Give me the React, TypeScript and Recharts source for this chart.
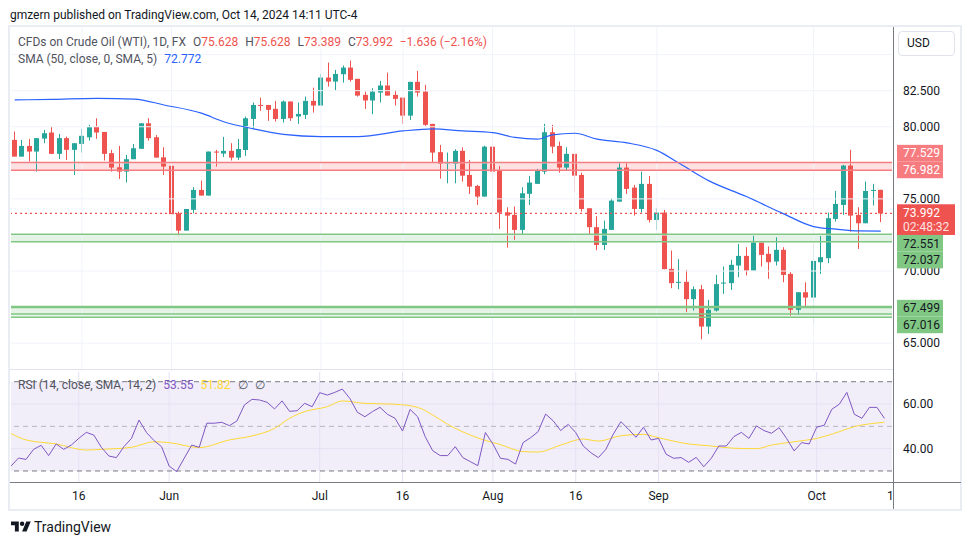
import React from "react";
import {
  ComposedChart,
  Bar,
  Line,
  XAxis,
  YAxis,
  ReferenceLine,
  ReferenceArea,
} from "recharts";

// trading sessions shown on the chart (CFD trades every weekday)
const sessions: [string, number[]][] = [
  ["05", [3, 6, 7, 8, 9, 10, 13, 14, 15, 16, 17, 20, 21, 22, 23, 24, 27, 28, 29, 30, 31]],
  ["06", [3, 4, 5, 6, 7, 10, 11, 12, 13, 14, 17, 18, 19, 20, 21, 24, 25, 26, 27, 28]],
  ["07", [1, 2, 3, 4, 5, 8, 9, 10, 11, 12, 15, 16, 17, 18, 19, 22, 23, 24, 25, 26, 29, 30, 31]],
  ["08", [1, 2, 5, 6, 7, 8, 9, 12, 13, 14, 15, 16, 19, 20, 21, 22, 23, 26, 27, 28, 29, 30]],
  ["09", [2, 3, 4, 5, 6, 9, 10, 11, 12, 13, 16, 17, 18, 19, 20, 23, 24, 25, 26, 27, 30]],
  ["10", [1, 2, 3, 4, 7, 8, 9, 10, 11, 14]],
];
const futureSlot = "2024-10-15";

const opens = [
  79.09, 77.93, 78.67, 78.28, 79.18, 79.6, 78.12, 79.21, 78.4, 78.81, 79.27, 80.01, 79.64, 78.17, 77.19, 76.89,
  77.75, 78.47, 80.24, 79.27, 77.88, 77.29, 74.0, 72.8, 74.24, 75.62, 75.23, 78.28, 78.14, 78.33, 77.86, 78.39,
  80.54, 81.51, 81.51, 81.24, 80.54, 81.75, 80.71, 80.82, 81.79, 81.47, 83.41, 83.13, 83.64, 84.1, 83.32, 82.21,
  81.82, 82.37, 82.86, 82.21, 82.02, 80.77, 83.11, 82.44, 80.2, 78.24, 77.45, 77.43, 78.33, 76.66, 75.9, 75.16,
  78.62, 76.96, 74.07, 73.89, 72.85, 75.35, 76.04, 76.89, 79.62, 78.67, 77.17, 78.12, 76.66, 74.35, 73.04, 71.81,
  72.85, 74.81, 77.17, 75.78, 74.3, 76.04, 73.54, 74.05, 70.15, 69.2, 69.25, 68.05, 68.74, 66.15, 67.26, 69.16,
  69.16, 70.38, 71.05, 70.03, 71.97, 71.19, 70.66, 71.47, 69.8, 67.31, 68.53, 68.16, 70.61, 70.89, 73.61, 74.58,
  77.31, 73.89, 73.31, 75.58, 75.628,
];
const highs = [
  79.67, 79.09, 79.16, 79.21, 79.78, 80.01, 79.5, 79.32, 78.86, 79.85, 80.13, 80.59, 79.64, 78.4, 78.67, 78.05,
  78.81, 80.24, 80.59, 79.43, 78.58, 77.52, 74.12, 74.3, 75.81, 76.27, 78.28, 78.4, 79.3, 78.86, 79.15, 80.71,
  81.68, 82.02, 81.51, 81.79, 81.82, 81.75, 81.68, 82.09, 82.71, 83.66, 84.45, 83.94, 84.24, 84.59, 83.32, 82.44,
  82.67, 83.18, 83.75, 82.55, 82.02, 83.11, 83.87, 82.9, 80.2, 78.74, 78.21, 78.44, 78.58, 77.7, 75.97, 78.69,
  78.86, 77.28, 74.42, 74.47, 75.81, 76.59, 77.08, 80.2, 80.13, 78.97, 78.58, 78.12, 76.82, 74.35, 73.8, 73.5,
  75.04, 77.54, 77.54, 75.97, 76.89, 76.59, 74.35, 74.24, 71.42, 70.82, 70.08, 68.93, 69.04, 68.0, 69.73, 70.31,
  70.78, 71.88, 71.65, 72.46, 71.97, 71.7, 72.34, 71.65, 69.92, 68.53, 69.22, 71.88, 72.43, 74.05, 75.55, 77.35,
  78.4, 74.42, 76.2, 76.04, 75.628,
];
const lows = [
  77.93, 77.93, 77.59, 76.89, 78.86, 78.12, 77.77, 77.7, 76.66, 78.21, 79.04, 79.16, 77.66, 76.89, 76.38, 76.13,
  77.75, 78.47, 79.04, 77.86, 76.66, 73.94, 72.46, 72.8, 74.0, 75.23, 75.23, 77.24, 77.9, 77.66, 77.7, 77.98,
  79.83, 81.1, 80.41, 80.36, 80.29, 80.41, 80.2, 80.54, 80.98, 81.47, 82.78, 82.51, 83.06, 83.13, 82.09, 81.24,
  80.87, 81.68, 82.16, 81.47, 80.2, 80.47, 82.09, 80.06, 77.52, 76.4, 76.08, 76.08, 76.19, 75.34, 74.58, 75.16,
  76.24, 72.92, 71.62, 72.16, 72.57, 74.58, 76.04, 76.71, 78.16, 76.82, 76.94, 75.5, 74.12, 72.5, 71.44, 71.46,
  72.85, 74.81, 75.34, 73.84, 74.05, 73.36, 72.85, 70.13, 68.81, 68.74, 67.15, 67.26, 65.27, 65.64, 67.19, 68.42,
  68.69, 69.57, 69.69, 70.03, 70.31, 69.46, 70.38, 69.22, 66.91, 66.96, 67.49, 66.27, 69.8, 70.54, 73.43, 73.89,
  72.73, 71.53, 73.31, 74.54, 73.389,
];
const closes = [
  77.93, 78.67, 78.28, 79.21, 79.55, 78.12, 79.21, 78.4, 78.86, 79.37, 79.97, 79.6, 78.12, 77.17, 76.89, 77.75,
  78.51, 80.24, 79.21, 77.86, 77.24, 73.94, 72.8, 74.3, 75.62, 75.23, 78.28, 78.21, 78.33, 77.86, 78.46, 80.59,
  81.51, 81.47, 81.17, 80.54, 81.75, 80.59, 80.89, 81.79, 81.47, 83.41, 83.13, 83.66, 84.1, 83.25, 82.16, 81.82,
  82.44, 82.86, 82.16, 81.93, 80.77, 83.11, 82.37, 80.13, 78.21, 77.43, 77.52, 78.33, 76.61, 75.85, 75.16, 78.62,
  76.89, 74.05, 73.84, 72.85, 75.39, 76.13, 76.94, 79.62, 78.62, 77.17, 78.12, 76.61, 74.3, 73.04, 71.81, 72.92,
  74.88, 77.17, 75.69, 74.3, 76.04, 73.54, 74.05, 70.13, 69.16, 69.25, 68.05, 68.74, 66.15, 67.31, 69.09, 69.2,
  70.43, 71.05, 70.03, 71.97, 71.12, 70.61, 71.47, 69.73, 67.31, 68.53, 68.16, 70.7, 70.96, 73.66, 74.65, 77.31,
  73.84, 73.31, 75.55, 75.62, 73.992,
];

// SMA(50) read at selected sessions: [session index, value]
const smaPoints: [number, number][] = [
  [0, 81.86], [5, 81.9], [11, 81.97], [16, 81.92], [20, 81.51], [25, 80.94], [28, 80.35], [32, 79.85],
  [36, 79.47], [41, 79.32], [46, 79.32], [52, 79.71], [56, 79.85], [60, 79.71], [64, 79.59], [67, 79.26],
  [70, 79.14], [72, 79.44], [75, 79.55], [78, 79.14], [82, 78.88], [86, 78.36], [89, 77.47], [93, 76.25],
  [98, 75.16], [103, 73.96], [107, 73.08], [110, 72.9], [113, 72.78], [116, 72.772],
];

const rsi = [
  32.2, 35.8, 35.2, 39.7, 41.5, 36.9, 42.1, 39.7, 41.6, 44.6, 47.3, 46.1, 40.6, 36.7, 36.0, 40.9, 44.6, 52.8,
  47.2, 43.6, 40.9, 32.2, 29.7, 35.7, 41.6, 40.6, 51.4, 51.4, 51.8, 50.3, 52.4, 59.6, 62.1, 61.8, 60.8, 57.8,
  61.4, 56.7, 57.0, 60.3, 58.8, 65.1, 64.0, 65.2, 66.7, 62.5, 56.3, 54.3, 56.6, 58.5, 55.4, 53.6, 47.9, 57.6,
  54.3, 45.4, 39.1, 36.9, 36.9, 40.9, 36.0, 34.2, 32.4, 47.2, 42.1, 35.7, 35.2, 33.1, 42.7, 44.9, 47.6, 55.5,
  52.5, 48.1, 50.9, 47.2, 41.2, 38.2, 36.0, 39.7, 46.6, 52.1, 48.7, 45.1, 49.6, 43.9, 44.6, 37.5, 35.7, 36.0,
  33.9, 36.1, 31.9, 35.7, 41.2, 41.2, 45.4, 47.3, 44.6, 50.2, 48.1, 46.9, 49.4, 44.6, 39.0, 42.7, 42.1, 49.6,
  50.5, 57.6, 59.9, 65.2, 55.4, 53.6, 58.5, 58.5, 53.55,
];
// RSI smoothing line read at selected sessions
const rsiMaPoints: [number, number][] = [
  [0, 46.8], [2, 43.9], [6, 42.1], [10, 39.4], [12, 39.7], [16, 40.6], [19, 43.1], [21, 42.7], [25, 40.5],
  [29, 43.9], [32, 45.7], [35, 49.1], [37, 53.6], [39, 56.6], [42, 58.8], [44, 61.4], [47, 60.3], [51, 59.9],
  [54, 58.5], [56, 55.1], [58, 50.9], [62, 44.8], [65, 41.8], [68, 38.7], [70, 38.5], [73, 41.6], [76, 44.3],
  [78, 43.4], [81, 45.8], [84, 46.4], [86, 44.9], [90, 42.1], [93, 41.2], [96, 40.2], [99, 40.0], [101, 41.6],
  [104, 43.1], [107, 44.6], [110, 47.6], [112, 49.9], [114, 51.1], [116, 51.82],
];

const redZone = [76.982, 77.529];
const greenZone = [72.037, 72.551];
const lowZone = [67.016, 67.499];
const lowZoneFloor = 66.8;
const lastPrice = 73.992;
const lastSma = 72.772;
const countdown = "02:48:32";

const priceGrid = [65, 67.5, 70, 72.5, 75, 77.5, 80, 82.5, 85];
const priceLabels = [65, 70, 75, 80, 82.5];
const rsiLabels = [40, 60];

const timeDates = ["2024-05-16", "2024-06-03", "2024-07-01", "2024-07-16", "2024-08-01", "2024-08-16", "2024-09-02", "2024-10-01"];
const timeLabels = ["16", "Jun", "Jul", "16", "Aug", "16", "Sep", "Oct"];

// ---------------------------------------------------------------------------

const FONT = "Roboto, 'Liberation Sans', sans-serif";
const GREEN = "#26a69a";
const RED = "#ef5350";
const GRID = "#f0f3fa";
const TEXT = "#131722";
const MUTED = "#50535e";
const AXIS = "#787b86";
const FS = 12;

const dates = sessions.flatMap(([m, days]) =>
  days.map((d) => `2024-${m}-${String(d).padStart(2, "0")}`)
);

const smaMap = new Map(smaPoints);
const rsiMaMap = new Map(rsiMaPoints);

const data = [
  ...dates.map((date, i) => ({
    date,
    open: opens[i],
    high: highs[i],
    low: lows[i],
    close: closes[i],
    range: [lows[i], highs[i]],
    sma: smaMap.has(i) ? smaMap.get(i) : null,
    rsi: rsi[i],
    rsiMa: rsiMaMap.has(i) ? rsiMaMap.get(i) : null,
  })),
  { date: futureSlot, range: null, sma: null, rsi: null, rsiMa: null },
];

// price tags on the right scale (TradingView pushes them apart so they don't overlap)
const tagLayout = new Map<number, { bg: string; fg: string; shift: number; w: number; h: number; sub?: string }>([
  [redZone[1], { bg: "#f77c80", fg: "#ffffff", shift: -9.2, w: 46, h: 16.7 }],
  [redZone[0], { bg: "#f77c80", fg: "#ffffff", shift: -0.4, w: 46, h: 16.7 }],
  [lastPrice, { bg: RED, fg: "#ffffff", shift: -0.8, w: 58, h: 30.7, sub: countdown }],
  [greenZone[1], { bg: "#81c784", fg: TEXT, shift: 9.1, w: 46, h: 16.7 }],
  [greenZone[0], { bg: "#81c784", fg: TEXT, shift: 18.4, w: 46, h: 16.7 }],
  [lowZone[1], { bg: "#81c784", fg: TEXT, shift: 1.1, w: 46, h: 16.7 }],
  [lowZone[0], { bg: "#81c784", fg: TEXT, shift: 10.8, w: 46, h: 16.7 }],
]);

const Candle = (props: any) => {
  const { x, y, width, height, payload } = props;
  if (!payload || payload.open == null) return null;
  const { open, close, high, low } = payload;
  const top = Math.min(y, y + height);
  const h = Math.abs(height);
  const ppu = h / (high - low || 1);
  const yOf = (v: number) => top + (high - v) * ppu;
  const color = close >= open ? GREEN : RED;
  const cx = Math.floor(x + width / 2) + 0.5;
  const bTop = yOf(Math.max(open, close));
  const bBot = yOf(Math.min(open, close));
  return (
    <g>
      <line x1={cx} x2={cx} y1={top} y2={top + h} stroke={color} strokeWidth={1} />
      <rect x={cx - 2.5} y={bTop} width={5} height={Math.max(1, bBot - bTop)} fill={color} />
    </g>
  );
};

const PriceTick = (props: any) => {
  const { x, y, payload } = props;
  const v: number = payload.value;
  const tag = tagLayout.get(v);
  if (tag) {
    const cy = y + tag.shift;
    return (
      <g>
        <rect x={x + 5} y={cy - 8.35} width={tag.w} height={tag.h} fill={tag.bg} />
        <text x={x + 11} y={cy + 4.2} fill={tag.fg} fontSize={FS} fontFamily={FONT}>
          {v.toFixed(3)}
        </text>
        {tag.sub && (
          <text x={x + 11} y={cy + 18.5} fill="#ffffff" fillOpacity={0.85} fontSize={FS} fontFamily={FONT}>
            {tag.sub}
          </text>
        )}
      </g>
    );
  }
  if (!priceLabels.includes(v)) return null;
  return (
    <text x={x + 11} y={y + 4.2} fill={TEXT} fontSize={FS} fontFamily={FONT}>
      {v.toFixed(3)}
    </text>
  );
};

const RsiTick = (props: any) => {
  const { x, y, payload } = props;
  if (!rsiLabels.includes(payload.value)) return null;
  return (
    <text x={x + 11} y={y + 4.2} fill={TEXT} fontSize={FS} fontFamily={FONT}>
      {payload.value.toFixed(2)}
    </text>
  );
};

const TimeTick = (props: any) => {
  const { x, y, payload } = props;
  const label = timeLabels[timeDates.indexOf(payload.value)];
  return (
    <text x={x} y={y + 17.5} textAnchor="middle" fill={TEXT} fontSize={FS} fontFamily={FONT}>
      {label}
    </text>
  );
};

const zoneLines = (zone: number[], color: string, width = 1.5) =>
  zone.map((v) => <ReferenceLine key={`z${v}`} y={v} stroke={color} strokeWidth={width} />);

const abs = (left: number, top: number, extra: React.CSSProperties = {}): React.CSSProperties => ({
  position: "absolute",
  left,
  top,
  ...extra,
});

export default function App() {
  const legend: React.CSSProperties = { fontFamily: FONT, fontSize: FS, color: MUTED, whiteSpace: "nowrap", lineHeight: "16px" };
  const red = { color: RED };
  const gap = { marginLeft: 7 };

  return (
    <div style={abs(0, 0, { width: 970, height: 545, background: "#fff", fontFamily: FONT })}>
      <div style={abs(10, 7, { fontSize: 12, color: TEXT, whiteSpace: "nowrap", lineHeight: "16px" })}>
        gmzern published on TradingView.com, Oct 14, 2024 14:11 UTC-4
      </div>

      <div style={abs(8, 25, { width: 954, height: 486, border: "2px solid #e9ecf2", boxSizing: "border-box" })} />

      <div style={abs(10, 27)}>
        <ComposedChart width={951} height={344} data={data} margin={{ top: 0, right: 0, bottom: 0, left: 1 }}>
          <XAxis dataKey="date" hide />
          <YAxis
            orientation="right"
            width={69}
            domain={[63.07, 86.914]}
            allowDataOverflow
            ticks={[...priceGrid, ...Array.from(tagLayout.keys())]}
            interval={0}
            tickSize={0}
            tickMargin={0}
            axisLine={false}
            tickLine={false}
            tick={<PriceTick />}
          />
          {timeDates.map((d) => (
            <ReferenceLine key={d} x={d} stroke={GRID} />
          ))}
          {priceGrid.map((v) => (
            <ReferenceLine key={`g${v}`} y={v} stroke={GRID} />
          ))}
          <ReferenceLine y={lastPrice} stroke={RED} strokeWidth={1.2} strokeDasharray="2 3" />
          <Line
            dataKey="sma"
            type="monotone"
            stroke="#2962ff"
            strokeWidth={1.2}
            dot={false}
            activeDot={false}
            connectNulls
            isAnimationActive={false}
          />
          <Bar dataKey="range" barSize={5} shape={<Candle />} isAnimationActive={false} />
          <ReferenceArea y1={redZone[0]} y2={redZone[1]} fill="#f23645" fillOpacity={0.15} stroke="none" />
          <ReferenceArea y1={greenZone[0]} y2={greenZone[1]} fill="#4caf50" fillOpacity={0.15} stroke="none" />
          <ReferenceArea y1={lowZone[0]} y2={lowZone[1]} fill="#4caf50" fillOpacity={0.15} stroke="none" />
          <ReferenceArea y1={lowZoneFloor} y2={lowZone[0]} fill="#4caf50" fillOpacity={0.12} stroke="none" />
          {zoneLines(redZone, "#f77c80")}
          {zoneLines(greenZone, "#81c784")}
          {zoneLines([lowZone[1]], "#81c784", 2.5)}
          {zoneLines([lowZone[0], lowZoneFloor], "#81c784")}
        </ComposedChart>
      </div>

      <div style={abs(10, 372)}>
        <ComposedChart width={951} height={137} data={data} margin={{ top: 0, right: 0, bottom: 0, left: 1 }}>
          <XAxis
            dataKey="date"
            ticks={timeDates}
            interval={0}
            height={27}
            tickSize={0}
            tickMargin={0}
            tickLine={false}
            axisLine={false}
            tick={<TimeTick />}
          />
          <YAxis
            orientation="right"
            width={69}
            domain={[25.07, 74.34]}
            allowDataOverflow
            ticks={[30, 40, 50, 60, 70]}
            interval={0}
            tickSize={0}
            tickMargin={0}
            axisLine={false}
            tickLine={false}
            tick={<RsiTick />}
          />
          <ReferenceArea y1={30} y2={70} fill="#7e57c2" fillOpacity={0.1} stroke="none" />
          {timeDates.map((d) => (
            <ReferenceLine key={d} x={d} stroke="#e6e1f3" />
          ))}
          <ReferenceLine y={40} stroke="#e6e1f3" />
          <ReferenceLine y={60} stroke="#e6e1f3" />
          <ReferenceLine y={70} stroke={AXIS} strokeDasharray="5 4" />
          <ReferenceLine y={50} stroke="#b2b5be" strokeDasharray="5 4" />
          <ReferenceLine y={30} stroke={AXIS} strokeDasharray="5 4" />
          <Line dataKey="rsiMa" type="monotone" stroke="#fdd835" strokeWidth={1} dot={false} activeDot={false} connectNulls isAnimationActive={false} />
          <Line dataKey="rsi" type="linear" stroke="#7e57c2" strokeWidth={1} dot={false} activeDot={false} isAnimationActive={false} />
        </ComposedChart>
      </div>

      {/* pane borders */}
      <div style={abs(10, 369, { width: 884, height: 1, background: "#e0e3eb" })} />
      <div style={abs(10, 482, { width: 951, height: 1, background: AXIS })} />
      <div style={abs(893, 27, { width: 1, height: 482, background: AXIS })} />
      <div style={abs(887, 488, { fontSize: FS, color: TEXT, width: 6, overflow: "hidden", lineHeight: "16px" })}>16</div>

      <div style={abs(898, 31, { width: 57, height: 25, border: "1px solid #e0e3eb", borderRadius: 4, boxSizing: "border-box", fontSize: FS, color: TEXT, lineHeight: "23px", paddingLeft: 8 })}>
        USD
      </div>

      <div style={abs(18, 34, legend)}>
        CFDs on Crude Oil (WTI), 1D, FX
        <span style={gap}>O</span><span style={red}>75.628</span>
        <span style={gap}>H</span><span style={red}>75.628</span>
        <span style={gap}>L</span><span style={red}>73.389</span>
        <span style={gap}>C</span><span style={red}>73.992</span>
        <span style={{ ...gap, ...red }}>−1.636 (−2.16%)</span>
      </div>
      <div style={abs(18, 51, legend)}>
        SMA (50, close, 0, SMA, 5)
        <span style={{ ...gap, color: "#2962ff" }}>{lastSma.toFixed(3)}</span>
      </div>
      <div style={abs(18, 377, legend)}>
        RSI (14, close, SMA, 14, 2)
        <span style={{ ...gap, color: "#7e57c2" }}>{rsi[rsi.length - 1].toFixed(2)}</span>
        <span style={{ ...gap, color: "#fdd835" }}>{rsiMaPoints[rsiMaPoints.length - 1][1].toFixed(2)}</span>
        <span style={gap}>∅</span>
        <span style={gap}>∅</span>
      </div>

      <div style={abs(11, 519, { display: "flex", alignItems: "center" })}>
        <svg width={20} height={16} viewBox="0 0 36 28">
          <path d="M14 22H7V11H0V4h14v18zM28 22h-8l7.5-18h8L28 22z" fill={TEXT} />
          <circle cx={20} cy={8} r={4} fill={TEXT} />
        </svg>
        <span style={{ marginLeft: 3, fontSize: 14, color: TEXT }}>TradingView</span>
      </div>
    </div>
  );
}
